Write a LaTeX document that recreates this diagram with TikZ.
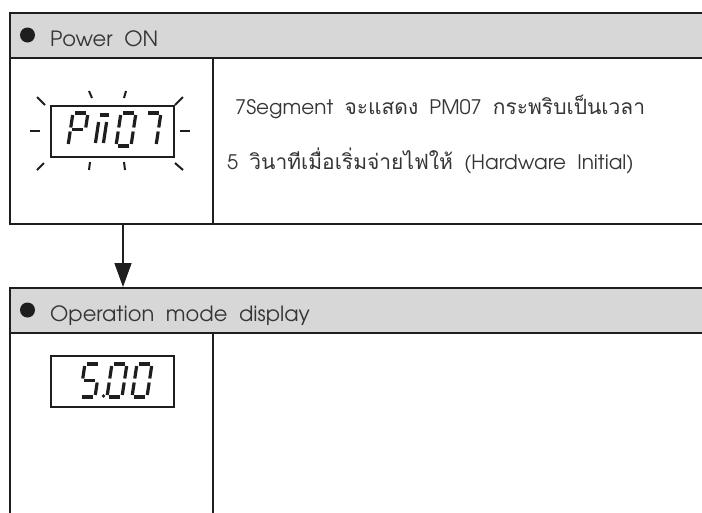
\documentclass[tikz,border=0pt]{standalone}
\usepackage{fontspec}
\setmainfont[WordSpace=2]{TeX Gyre Adventor}
\newfontfamily\thai[Script=Thai,WordSpace=2,Scale=1.05]{Loma}
\usetikzlibrary{arrows.meta}
\definecolor{ink}{HTML}{1E1E1E}
\definecolor{hdrgray}{HTML}{D7D7D7}

% seven-segment cells: local origin at bottom-left, y grows downward (negative = up)
\newcommand\segW{15}
\newcommand\SA{\draw[seg] (2,-33) -- (\segW-2,-33);}
\newcommand\SB{\draw[seg] (\segW,-31) -- (\segW,-18.5);}
\newcommand\SC{\draw[seg] (\segW,-14.5) -- (\segW,-2);}
\newcommand\SD{\draw[seg] (2,0) -- (\segW-2,0);}
\newcommand\SE{\draw[seg] (0,-2) -- (0,-14.5);}
\newcommand\SF{\draw[seg] (0,-18.5) -- (0,-31);}
\newcommand\SG{\draw[seg] (2,-16.5) -- (\segW-2,-16.5);}
\newcommand\segdigit[2]{\begin{scope}[shift={#1},xslant=0.15]#2\end{scope}}

\begin{document}
\begin{tikzpicture}[x=1pt,y=-1pt,
  frame/.style={draw=ink,line width=1.6pt,inner sep=0pt,anchor=north west},
  hdr/.style={frame,fill=hdrgray,minimum width=711pt,minimum height=45pt},
  bullet/.style={circle,fill=ink,inner sep=0pt,minimum size=15pt},
  hdrtext/.style={anchor=base west,inner sep=0pt,font=\fontsize{21}{24}\selectfont,text=ink!90},
  bodytext/.style={anchor=base west,inner sep=0pt,font=\fontsize{20}{24}\selectfont,text=ink!90},
  lcd/.style={draw=ink,line width=2pt,inner sep=0pt,anchor=north west,minimum width=123pt,minimum height=51pt},
  seg/.style={draw=ink,line width=3.2pt},
  ray/.style={draw=ink,line width=2pt},
  flow/.style={draw=ink,line width=1.4pt,-{Triangle[length=24pt,width=17pt]}}]
\useasboundingbox (0,0) rectangle (702,512);
\clip (0,0) rectangle (702,512);

% ---- Power ON block ----
\node[hdr] (h1) at (9,12) {};
\node[frame,minimum width=711pt,minimum height=166pt] (b1) at (9,57) {};
\coordinate (dv) at (213,0);
\draw[frame] (b1.north -| dv) -- (b1.south -| dv);
\node[bullet] (k1) at (27.5,35) {};
\node[hdrtext] (t1) at (50,46.5) {Power ON};

% blinking display
\node[lcd] (d1) at (50,105) {};
\segdigit{(68,146)}{\SA\SB\SF\SG\SE}
\begin{scope}[shift={(92,146)},xslant=0.15]
  \draw[seg] (3,-31) -- (12,-31);
  \draw[seg] (3,-3) -- (3,-24);
  \draw[seg] (11,-3) -- (11,-24);
\end{scope}
\segdigit{(116,146)}{\SA\SB\SC\SD\SE\SF}
\segdigit{(141,146)}{\SA\SB\SC}
\draw[ray] (30,131) -- (40,131);
\draw[ray] (180,131) -- (190,131);
\draw[ray] (89,91) -- (92,98);
\draw[ray] (126,91) -- (124,98);
\draw[ray] (90,162) -- (89,170);
\draw[ray] (124,162) -- (125,170);
\draw[ray] (37,97) -- (45,105);
\draw[ray] (183,97) -- (175,105);
\draw[ray] (37,170) -- (44,163);
\draw[ray] (175,163) -- (183,170);

\node[bodytext] (l1) at (235,114.5) {7Segment {\thai จะแสดง} PM07 {\thai กระพริบเป็นเวลา}};
\node[bodytext] (l2) at (227,169) {5 {\thai วินาทีเมื่อเริ่มจ่ายไฟให้} (Hardware Initial)};

% ---- Operation mode block ----
\node[hdr] (h2) at (9,287) {};
\node[frame,minimum width=711pt,minimum height=200pt] (b2) at (9,332) {};
\draw[frame] (b2.north -| dv) -- (b2.south -| dv);
\node[bullet] (k2) at (27.5,310) {};
\node[hdrtext] (t2) at (50,321.5) {Operation mode display};

\node[lcd] (d2) at (50,355) {};
\segdigit{(80,397)}{\SA\SF\SG\SC\SD}
\fill[ink] (103.5,396) circle (1.8);
\segdigit{(107,397)}{\SA\SB\SC\SD\SE\SF}
\segdigit{(132,397)}{\SA\SB\SC\SD\SE\SF}

% ---- transition ----
\coordinate (ax) at (123,0);
\draw[flow] (b1.south -| ax) -- (h2.north -| ax);
\end{tikzpicture}
\end{document}
